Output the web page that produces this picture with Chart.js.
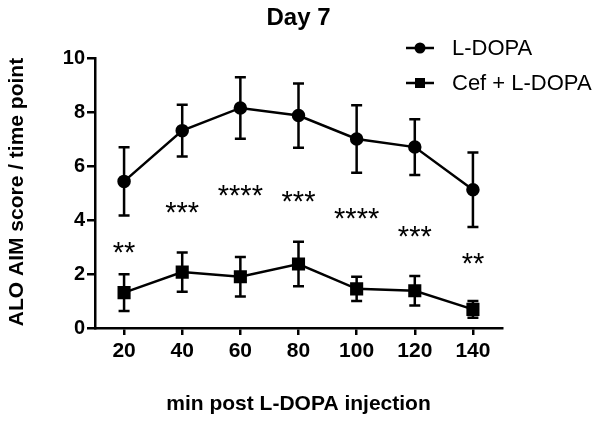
<!DOCTYPE html>
<html>
<head>
<meta charset="utf-8">
<script src="https://cdn.jsdelivr.net/npm/chart.js@4.4.1/dist/chart.umd.min.js"></script>
<style>
  html, body { margin: 0; padding: 0; background: #fff; }
</style>
</head>
<body>
<canvas id="myChart" width="604" height="422"></canvas>
<script>
// data
var minutes = ['20', '40', '60', '80', '100', '120', '140'];
var ldopa = [5.43, 7.31, 8.15, 7.87, 7.00, 6.70, 5.12];
var ldopaErr = [1.26, 0.96, 1.14, 1.19, 1.25, 1.03, 1.38];
var cef = [1.31, 2.07, 1.90, 2.37, 1.45, 1.38, 0.69];
var cefErr = [0.68, 0.73, 0.73, 0.82, 0.45, 0.55, 0.31];
// significance marks and the height they sit at
var stars = ['**', '***', '****', '***', '****', '***', '**'];
var starY = [3.05, 4.54, 5.18, 4.96, 4.32, 3.64, 2.65];

var FONT = '"Liberation Sans", Arial, sans-serif';
var errs = [ldopaErr, cefErr];

// error bars + stars
var errorBars = {
  id: 'errorBars',
  afterDatasetsDraw: function(chart) {
    var ctx = chart.ctx;
    var y = chart.scales.y;
    var x = chart.scales.x;
    ctx.save();
    ctx.strokeStyle = '#000';
    ctx.lineWidth = 2.5;
    chart.data.datasets.forEach(function(ds, i) {
      var meta = chart.getDatasetMeta(i);
      meta.data.forEach(function(pt, j) {
        var top = y.getPixelForValue(ds.data[j] + errs[i][j]);
        var bot = y.getPixelForValue(ds.data[j] - errs[i][j]);
        ctx.beginPath();
        ctx.moveTo(pt.x, top); ctx.lineTo(pt.x, bot);
        ctx.moveTo(pt.x - 5.5, top); ctx.lineTo(pt.x + 5.5, top);
        ctx.moveTo(pt.x - 5.5, bot); ctx.lineTo(pt.x + 5.5, bot);
        ctx.stroke();
      });
    });
    // stars
    var fs = 29;
    ctx.fillStyle = '#000';
    ctx.font = fs + 'px ' + FONT;
    ctx.textAlign = 'center';
    ctx.textBaseline = 'alphabetic';
    stars.forEach(function(s, j) {
      var px = x.getPixelForValue(j);
      var py = y.getPixelForValue(starY[j]);
      ctx.fillText(s, px, py + 0.575 * fs);
    });
    ctx.restore();
  }
};

// title, axis titles, legend
var decorations = {
  id: 'decorations',
  afterDraw: function(chart) {
    var ctx = chart.ctx;
    var area = chart.chartArea;
    ctx.save();
    ctx.fillStyle = '#000';
    ctx.textAlign = 'center';
    ctx.textBaseline = 'middle';
    ctx.font = 'bold 24px ' + FONT;
    ctx.fillText('Day 7', (area.left + area.right) / 2, 18);

    ctx.font = 'bold 21px ' + FONT;
    ctx.fillText('min post L-DOPA injection', (area.left + area.right) / 2, 404);

    ctx.translate(17, 192);
    ctx.rotate(-Math.PI / 2);
    ctx.fillText('ALO AIM score / time point', 0, 0);
    ctx.restore();

    // legend
    ctx.save();
    ctx.strokeStyle = '#000';
    ctx.fillStyle = '#000';
    ctx.lineWidth = 2.5;
    var rows = [['L-DOPA', 48, 'circle'], ['Cef + L-DOPA', 83, 'rect']];
    rows.forEach(function(r) {
      ctx.beginPath();
      ctx.moveTo(406, r[1]); ctx.lineTo(434, r[1]);
      ctx.stroke();
      if (r[2] === 'circle') {
        ctx.beginPath();
        ctx.arc(420, r[1], 5.5, 0, Math.PI * 2);
        ctx.fill();
      } else {
        ctx.fillRect(415, r[1] - 5, 10, 10);
      }
      ctx.font = '22px ' + FONT;
      ctx.textAlign = 'left';
      ctx.textBaseline = 'middle';
      ctx.fillText(r[0], 452, r[1] + 1);
    });
    ctx.restore();
  }
};

var ctx = document.getElementById('myChart');
var myChart = new Chart(ctx, {
  type: 'line',
  data: {
    labels: minutes,
    datasets: [{
      label: 'L-DOPA',
      data: ldopa,
      borderColor: '#000',
      backgroundColor: '#000',
      borderWidth: 2.5,
      pointStyle: 'circle',
      pointRadius: 5.5,
      pointHoverRadius: 5.5,
      tension: 0
    }, {
      label: 'Cef + L-DOPA',
      data: cef,
      borderColor: '#000',
      backgroundColor: '#000',
      borderWidth: 2.5,
      pointStyle: 'rect',
      pointRadius: 7.5,
      pointHoverRadius: 7.5,
      tension: 0
    }]
  },
  options: {
    responsive: false,
    animation: false,
    events: [],
    clip: false,
    layout: {
      padding: { top: 58, right: 102, left: 0, bottom: 0 }
    },
    plugins: {
      legend: { display: false },
      title: { display: false },
      tooltip: { enabled: false }
    },
    scales: {
      x: {
        type: 'category',
        offset: true,
        afterFit: function(scale) { scale.height = 94; },
        grid: {
          drawOnChartArea: false,
          offset: false,
          tickLength: 7,
          color: '#000',
          lineWidth: 2.5
        },
        border: { display: true, color: '#000', width: 2.5 },
        ticks: {
          color: '#000',
          padding: 4,
          font: { family: FONT, size: 21, weight: 'bold' }
        }
      },
      y: {
        min: 0,
        max: 10,
        afterFit: function(scale) { scale.width = 95; },
        grid: {
          drawOnChartArea: false,
          tickLength: 8,
          color: '#000',
          lineWidth: 2.5
        },
        border: { display: true, color: '#000', width: 2.5 },
        ticks: {
          stepSize: 2,
          color: '#000',
          padding: 2,
          font: { family: FONT, size: 20, weight: 'bold' }
        }
      }
    }
  },
  plugins: [errorBars, decorations]
});
</script>
</body>
</html>
